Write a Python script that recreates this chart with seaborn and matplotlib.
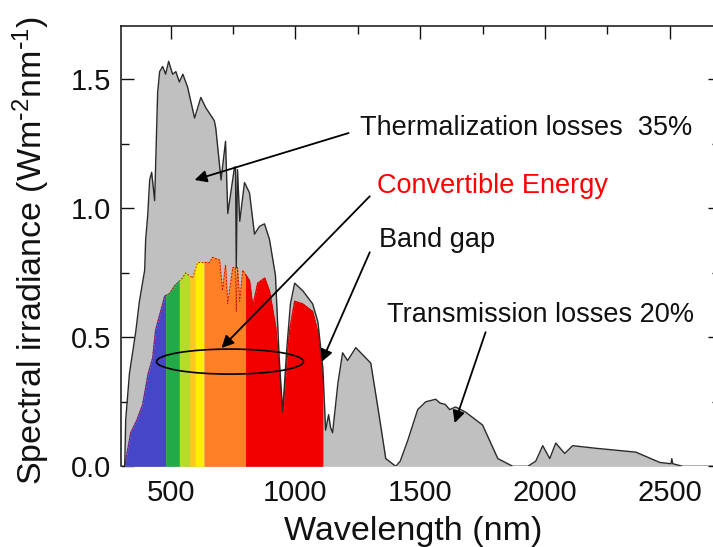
import numpy as np
import pandas as pd
import matplotlib
matplotlib.use("Agg")
import matplotlib.pyplot as plt
from matplotlib.patches import Ellipse
from matplotlib.ticker import MultipleLocator, FormatStrFormatter
import seaborn as sns

# AM1.5 solar spectrum (nm, W m^-2 nm^-1)
wavelength = [300, 316, 320, 335, 360, 375, 396, 400, 408, 416, 424, 436, 448, 456,
              468, 480, 492, 508, 521, 535, 549, 568, 596, 621, 641, 675, 681, 702,
              720, 729, 756, 760, 763, 768, 777, 796, 816, 836, 856, 876, 896, 920,
              935, 949, 965, 980, 997, 1030, 1069, 1090, 1110, 1121, 1133, 1141, 1149,
              1170, 1189, 1209, 1242, 1302, 1335, 1362, 1402, 1420, 1450, 1490, 1522,
              1562, 1580, 1600, 1618, 1642, 1682, 1750, 1811, 1871, 1931, 1963, 1991,
              2019, 2043, 2079, 2111, 2203, 2364, 2460, 2505, 2508, 2512, 2552, 2700]
irradiance = [0.0, 0.0, 0.18, 0.36, 0.52, 0.64, 0.76, 0.88, 0.97, 1.11, 1.14, 1.03, 1.45, 1.53,
              1.55, 1.52, 1.57, 1.52, 1.53, 1.49, 1.52, 1.47, 1.35, 1.43, 1.39, 1.34, 1.31, 1.11,
              1.26, 0.98, 1.16, 1.16, 0.77, 1.15, 0.95, 1.10, 1.06, 0.90, 0.93, 0.94, 0.88, 0.74,
              0.42, 0.21, 0.45, 0.63, 0.71, 0.68, 0.63, 0.56, 0.38, 0.14, 0.20, 0.15, 0.13,
              0.32, 0.44, 0.41, 0.46, 0.40, 0.20, 0.03, 0.0, 0.02, 0.10, 0.22, 0.25,
              0.26, 0.245, 0.24, 0.22, 0.23, 0.21, 0.16, 0.03, 0.0, 0.0, 0.02, 0.08,
              0.03, 0.09, 0.05, 0.08, 0.07, 0.055, 0.015, 0.01, 0.03, 0.01, 0.0, 0.0]

# Part of the spectrum a silicon cell can convert (below the band gap)
conv_wavelength = [316, 340, 365, 388, 410, 428, 440, 460, 476, 496, 516, 548, 560, 588,
                   608, 656, 668, 696, 708, 720, 729, 749, 760, 763, 768, 777, 789, 816,
                   829, 849, 877, 896, 921, 949, 977, 997, 1029, 1069, 1090, 1101, 1110]
conv_irradiance = [0.0, 0.13, 0.18, 0.24, 0.36, 0.42, 0.53, 0.60, 0.66, 0.67, 0.70, 0.73, 0.75, 0.73,
                   0.79, 0.79, 0.81, 0.80, 0.68, 0.78, 0.63, 0.77, 0.77, 0.60, 0.77, 0.64, 0.76, 0.72,
                   0.62, 0.71, 0.73, 0.68, 0.54, 0.21, 0.53, 0.64, 0.63, 0.60, 0.52, 0.42, 0.34]

# Colour bands under the convertible curve
band_edges = [316, 480, 535, 575, 598, 634, 800, 1110]
band_colors = ["#4646c8", "#22aa48", "#b6dc2a", "#ffc81e", "#ffee00", "#ff7f27", "#f20000"]

labels = ["Thermalization losses  35%", "Convertible Energy", "Band gap",
          "Transmission losses 20%"]

sns.set_theme(style="ticks")
plt.rcParams["font.family"] = ["Liberation Sans", "DejaVu Sans"]
plt.rcParams["mathtext.default"] = "regular"

fig = plt.figure(figsize=(7.13, 5.47), dpi=100)
ax = fig.add_axes([0.1693, 0.1475, 0.8401, 0.8050])

spec = pd.DataFrame({"wavelength": wavelength, "irradiance": irradiance})
conv = pd.DataFrame({"wavelength": conv_wavelength, "irradiance": conv_irradiance})

# full spectrum
ax.fill_between(spec["wavelength"], 0, spec["irradiance"], color="#c0c0c0", lw=0, zorder=1)
sns.lineplot(data=spec, x="wavelength", y="irradiance", ax=ax, color="#2a2a2a",
             lw=1.0, zorder=4, estimator=None, sort=False)

# coloured bands of the convertible energy
cx = conv["wavelength"].to_numpy(float)
cy = conv["irradiance"].to_numpy(float)
for lo, hi, col in zip(band_edges[:-1], band_edges[1:], band_colors):
    inside = (cx > lo) & (cx < hi)
    xs = np.concatenate([[lo], cx[inside], [hi]])
    ys = np.interp(xs, cx, cy)
    ax.fill_between(xs, 0, ys, color=col, lw=0, zorder=2)
    ax.plot(xs, ys, color=col, lw=0.9, zorder=3)
ax.plot(cx, cy, color="#c00000", lw=0.6, ls=(0, (2, 2)), zorder=3)

ax.set_xlim(300, 2700)
ax.set_ylim(0, 1.707)
ax.set_xlabel("")
ax.set_ylabel("")

ax.xaxis.set_major_locator(MultipleLocator(500))
ax.xaxis.set_minor_locator(MultipleLocator(250))
ax.yaxis.set_major_locator(MultipleLocator(0.5))
ax.yaxis.set_minor_locator(MultipleLocator(0.25))
ax.yaxis.set_major_formatter(FormatStrFormatter("%.1f"))

ax.tick_params(axis="both", which="both", direction="in", color="#111111", width=1.0,
               labelsize=21, labelcolor="#111111")
ax.tick_params(axis="y", which="both", left=True, right=True)
ax.tick_params(axis="y", which="major", length=9, pad=7)
ax.tick_params(axis="y", which="minor", length=5.5)
ax.tick_params(axis="x", which="both", top=True, bottom=False, labelbottom=True, pad=9)
ax.tick_params(axis="x", which="major", length=9)
ax.tick_params(axis="x", which="minor", length=6)
for side in ["left", "top", "right"]:
    ax.spines[side].set_color("#111111")
    ax.spines[side].set_linewidth(1.1)
ax.spines["bottom"].set_visible(False)

fig.text(413 / 713, 1 - 540 / 547, "Wavelength (nm)", ha="center", va="baseline",
         fontsize=24.5, color="#111111")
fig.text(31 / 713, 1 - 250 / 547, r"Spectral irradiance (Wm$^{\text{-}2}$nm$^{\text{-}1}$)",
         rotation=90, ha="center", va="center", fontsize=24.5, color="#111111")

# annotations
ax.text(1257, 1.284, labels[0], fontsize=19.5, color="#111111")
ax.text(1326, 1.059, labels[1], fontsize=19.5, color="#ff0000")
ax.text(1334, 0.850, labels[2], fontsize=19.5, color="#111111")
ax.text(1366, 0.559, labels[3], fontsize=19.5, color="#111111")

arrow = dict(arrowstyle="-|>", color="black", lw=1.3, mutation_scale=18,
             shrinkA=0, shrinkB=0)
ax.annotate("", xy=(596, 1.11), xytext=(1213, 1.292), arrowprops=arrow, zorder=6)
ax.annotate("", xy=(704, 0.459), xytext=(1298, 1.047), arrowprops=arrow, zorder=6)
ax.annotate("", xy=(1105, 0.405), xytext=(1298, 0.83), arrowprops=arrow, zorder=6)
ax.annotate("", xy=(1638, 0.168), xytext=(1762, 0.52), arrowprops=arrow, zorder=6)

ax.add_patch(Ellipse((738, 0.406), 589, 0.097, fill=False, ec="black", lw=1.2, zorder=6))

fig.savefig("out.png", dpi=100)
